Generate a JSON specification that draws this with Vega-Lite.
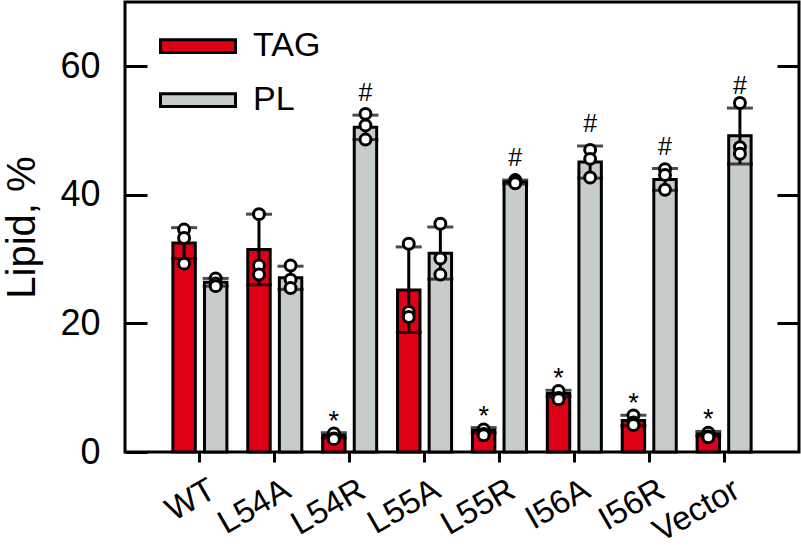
{
  "$schema": "https://vega.github.io/schema/vega-lite/v6.json",
  "width": 674,
  "height": 450,
  "autosize": {"type": "none"},
  "padding": {"left": 125, "top": 2, "right": 2, "bottom": 100},
  "background": "white",
  "config": {
    "font": "Liberation Sans",
    "view": {"stroke": "black", "strokeWidth": 3},
    "axis": {"grid": false, "domain": false, "tickColor": "black", "tickWidth": 3, "labelColor": "black", "titleColor": "black", "titleFontWeight": "normal"}
  },
  "datasets": {
    "summary": [
      {"genotype": "WT", "lipid": "TAG", "mean": 32.5, "lo": 30.1, "hi": 34.9, "sig": ""},
      {"genotype": "WT", "lipid": "PL", "mean": 26.4, "lo": 25.8, "hi": 27.0, "sig": ""},
      {"genotype": "L54A", "lipid": "TAG", "mean": 31.5, "lo": 26.0, "hi": 37.0, "sig": ""},
      {"genotype": "L54A", "lipid": "PL", "mean": 27.1, "lo": 25.3, "hi": 28.9, "sig": ""},
      {"genotype": "L54R", "lipid": "TAG", "mean": 2.6, "lo": 2.2, "hi": 3.0, "sig": "*"},
      {"genotype": "L54R", "lipid": "PL", "mean": 50.5, "lo": 48.6, "hi": 52.4, "sig": "#"},
      {"genotype": "L55A", "lipid": "TAG", "mean": 25.2, "lo": 18.6, "hi": 31.9, "sig": ""},
      {"genotype": "L55A", "lipid": "PL", "mean": 30.9, "lo": 26.9, "hi": 35.0, "sig": ""},
      {"genotype": "L55R", "lipid": "TAG", "mean": 3.4, "lo": 3.0, "hi": 3.8, "sig": "*"},
      {"genotype": "L55R", "lipid": "PL", "mean": 42.0, "lo": 41.7, "hi": 42.3, "sig": "#"},
      {"genotype": "I56A", "lipid": "TAG", "mean": 9.1, "lo": 8.6, "hi": 9.6, "sig": "*"},
      {"genotype": "I56A", "lipid": "PL", "mean": 45.1, "lo": 42.6, "hi": 47.6, "sig": "#"},
      {"genotype": "I56R", "lipid": "TAG", "mean": 4.9, "lo": 4.1, "hi": 5.7, "sig": "*"},
      {"genotype": "I56R", "lipid": "PL", "mean": 42.4, "lo": 40.7, "hi": 44.1, "sig": "#"},
      {"genotype": "Vector", "lipid": "TAG", "mean": 2.8, "lo": 2.5, "hi": 3.2, "sig": "*"},
      {"genotype": "Vector", "lipid": "PL", "mean": 49.2, "lo": 44.8, "hi": 53.5, "sig": "#"}
    ],
    "points": [
      {"genotype": "WT", "lipid": "TAG", "value": 34.6},
      {"genotype": "WT", "lipid": "TAG", "value": 33.3},
      {"genotype": "WT", "lipid": "TAG", "value": 29.3},
      {"genotype": "WT", "lipid": "PL", "value": 27.0},
      {"genotype": "WT", "lipid": "PL", "value": 26.2},
      {"genotype": "WT", "lipid": "PL", "value": 25.8},
      {"genotype": "L54A", "lipid": "TAG", "value": 37.0},
      {"genotype": "L54A", "lipid": "TAG", "value": 29.0},
      {"genotype": "L54A", "lipid": "TAG", "value": 27.6},
      {"genotype": "L54A", "lipid": "PL", "value": 29.0},
      {"genotype": "L54A", "lipid": "PL", "value": 26.8},
      {"genotype": "L54A", "lipid": "PL", "value": 25.5},
      {"genotype": "L54R", "lipid": "TAG", "value": 2.9},
      {"genotype": "L54R", "lipid": "TAG", "value": 2.1},
      {"genotype": "L54R", "lipid": "TAG", "value": 2.0},
      {"genotype": "L54R", "lipid": "PL", "value": 52.6},
      {"genotype": "L54R", "lipid": "PL", "value": 50.8},
      {"genotype": "L54R", "lipid": "PL", "value": 48.6},
      {"genotype": "L55A", "lipid": "TAG", "value": 32.4},
      {"genotype": "L55A", "lipid": "TAG", "value": 21.8},
      {"genotype": "L55A", "lipid": "TAG", "value": 21.0},
      {"genotype": "L55A", "lipid": "PL", "value": 35.5},
      {"genotype": "L55A", "lipid": "PL", "value": 30.1},
      {"genotype": "L55A", "lipid": "PL", "value": 27.6},
      {"genotype": "L55R", "lipid": "TAG", "value": 3.5},
      {"genotype": "L55R", "lipid": "TAG", "value": 2.8},
      {"genotype": "L55R", "lipid": "TAG", "value": 2.6},
      {"genotype": "L55R", "lipid": "PL", "value": 42.3},
      {"genotype": "L55R", "lipid": "PL", "value": 42.0},
      {"genotype": "L55R", "lipid": "PL", "value": 41.8},
      {"genotype": "I56A", "lipid": "TAG", "value": 9.5},
      {"genotype": "I56A", "lipid": "TAG", "value": 8.4},
      {"genotype": "I56A", "lipid": "TAG", "value": 8.2},
      {"genotype": "I56A", "lipid": "PL", "value": 47.0},
      {"genotype": "I56A", "lipid": "PL", "value": 45.6},
      {"genotype": "I56A", "lipid": "PL", "value": 42.7},
      {"genotype": "I56R", "lipid": "TAG", "value": 5.7},
      {"genotype": "I56R", "lipid": "TAG", "value": 4.6},
      {"genotype": "I56R", "lipid": "TAG", "value": 4.2},
      {"genotype": "I56R", "lipid": "PL", "value": 44.0},
      {"genotype": "I56R", "lipid": "PL", "value": 43.1},
      {"genotype": "I56R", "lipid": "PL", "value": 40.8},
      {"genotype": "Vector", "lipid": "TAG", "value": 3.0},
      {"genotype": "Vector", "lipid": "TAG", "value": 2.4},
      {"genotype": "Vector", "lipid": "TAG", "value": 2.3},
      {"genotype": "Vector", "lipid": "PL", "value": 54.3},
      {"genotype": "Vector", "lipid": "PL", "value": 47.4},
      {"genotype": "Vector", "lipid": "PL", "value": 46.4}
    ]
  },
  "encoding": {
    "x": {
      "field": "genotype", "type": "nominal", "sort": ["WT", "L54A", "L54R", "L55A", "L55R", "I56A", "I56R", "Vector"],
      "scale": {"paddingInner": 0, "paddingOuter": 0.5},
      "axis": {"title": null, "labelAngle": -30, "labelFontSize": 33, "labelAlign": "right", "labelBaseline": "top", "tickSize": 10, "labelPadding": 11, "labelOffset": 5}
    },
    "xOffset": {"field": "lipid", "type": "nominal", "sort": ["TAG", "PL"], "scale": {"paddingInner": 0.29, "paddingOuter": 0.33}}
  },
  "layer": [
    {
      "data": {"name": "summary"},
      "mark": {"type": "bar", "stroke": "black", "strokeWidth": 3},
      "encoding": {
        "y": {"field": "mean", "type": "quantitative", "scale": {"domain": [0, 70], "nice": false},
          "axis": {"orient": "left", "offset": -22, "values": [0, 20, 40, 60], "labelFontSize": 36, "tickSize": 22, "labelPadding": 25, "title": "Lipid, %", "titleFontSize": 40, "titlePadding": 17}},
        "color": {"field": "lipid", "type": "nominal", "sort": ["TAG", "PL"],
          "scale": {"domain": ["TAG", "PL"], "range": ["#dd0016", "#c5cccb"]},
          "legend": {"title": null, "orient": "top-left", "offset": 34, "padding": 0, "symbolType": "M-1,-0.17L1,-0.17L1,0.17L-1,0.17Z", "symbolSize": 5625, "symbolStrokeColor": "black", "symbolStrokeWidth": 3, "symbolOpacity": 1, "labelFontSize": 34, "labelColor": "black", "clipHeight": 20, "rowPadding": 20, "labelOffset": 16}}
      }
    },
    {
      "data": {"name": "summary"},
      "mark": {"type": "rule", "color": "black", "strokeWidth": 3},
      "encoding": {
        "y": {"field": "lo", "type": "quantitative", "axis": {"orient": "right", "offset": -22, "values": [20, 40, 60], "labels": false, "tickSize": 22, "title": null}},
        "y2": {"field": "hi"}
      }
    },
    {
      "data": {"name": "summary"},
      "mark": {"type": "tick", "color": "black", "thickness": 3, "size": 26, "orient": "horizontal"},
      "encoding": {"y": {"field": "hi", "type": "quantitative", "axis": null}}
    },
    {
      "data": {"name": "summary"},
      "mark": {"type": "tick", "color": "black", "thickness": 3, "size": 26, "orient": "horizontal"},
      "encoding": {"y": {"field": "lo", "type": "quantitative", "axis": null}}
    },
    {
      "data": {"name": "points"},
      "mark": {"type": "point", "shape": "circle", "filled": true, "fill": "white", "stroke": "black", "strokeWidth": 3, "size": 120, "opacity": 1},
      "encoding": {"y": {"field": "value", "type": "quantitative", "axis": null}}
    },
    {
      "data": {"name": "summary"},
      "transform": [{"filter": "datum.sig === '*'"}],
      "mark": {"type": "text", "fontSize": 27, "color": "black", "baseline": "alphabetic", "dy": -3},
      "encoding": {"y": {"field": "hi", "type": "quantitative", "axis": null}, "text": {"field": "sig"}}
    },
    {
      "data": {"name": "summary"},
      "transform": [{"filter": "datum.sig === '#'"}],
      "mark": {"type": "text", "fontSize": 25, "color": "black", "baseline": "alphabetic", "dy": -14},
      "encoding": {"y": {"field": "hi", "type": "quantitative", "axis": null}, "text": {"field": "sig"}}
    }
  ],
  "resolve": {"axis": {"y": "independent"}}
}
